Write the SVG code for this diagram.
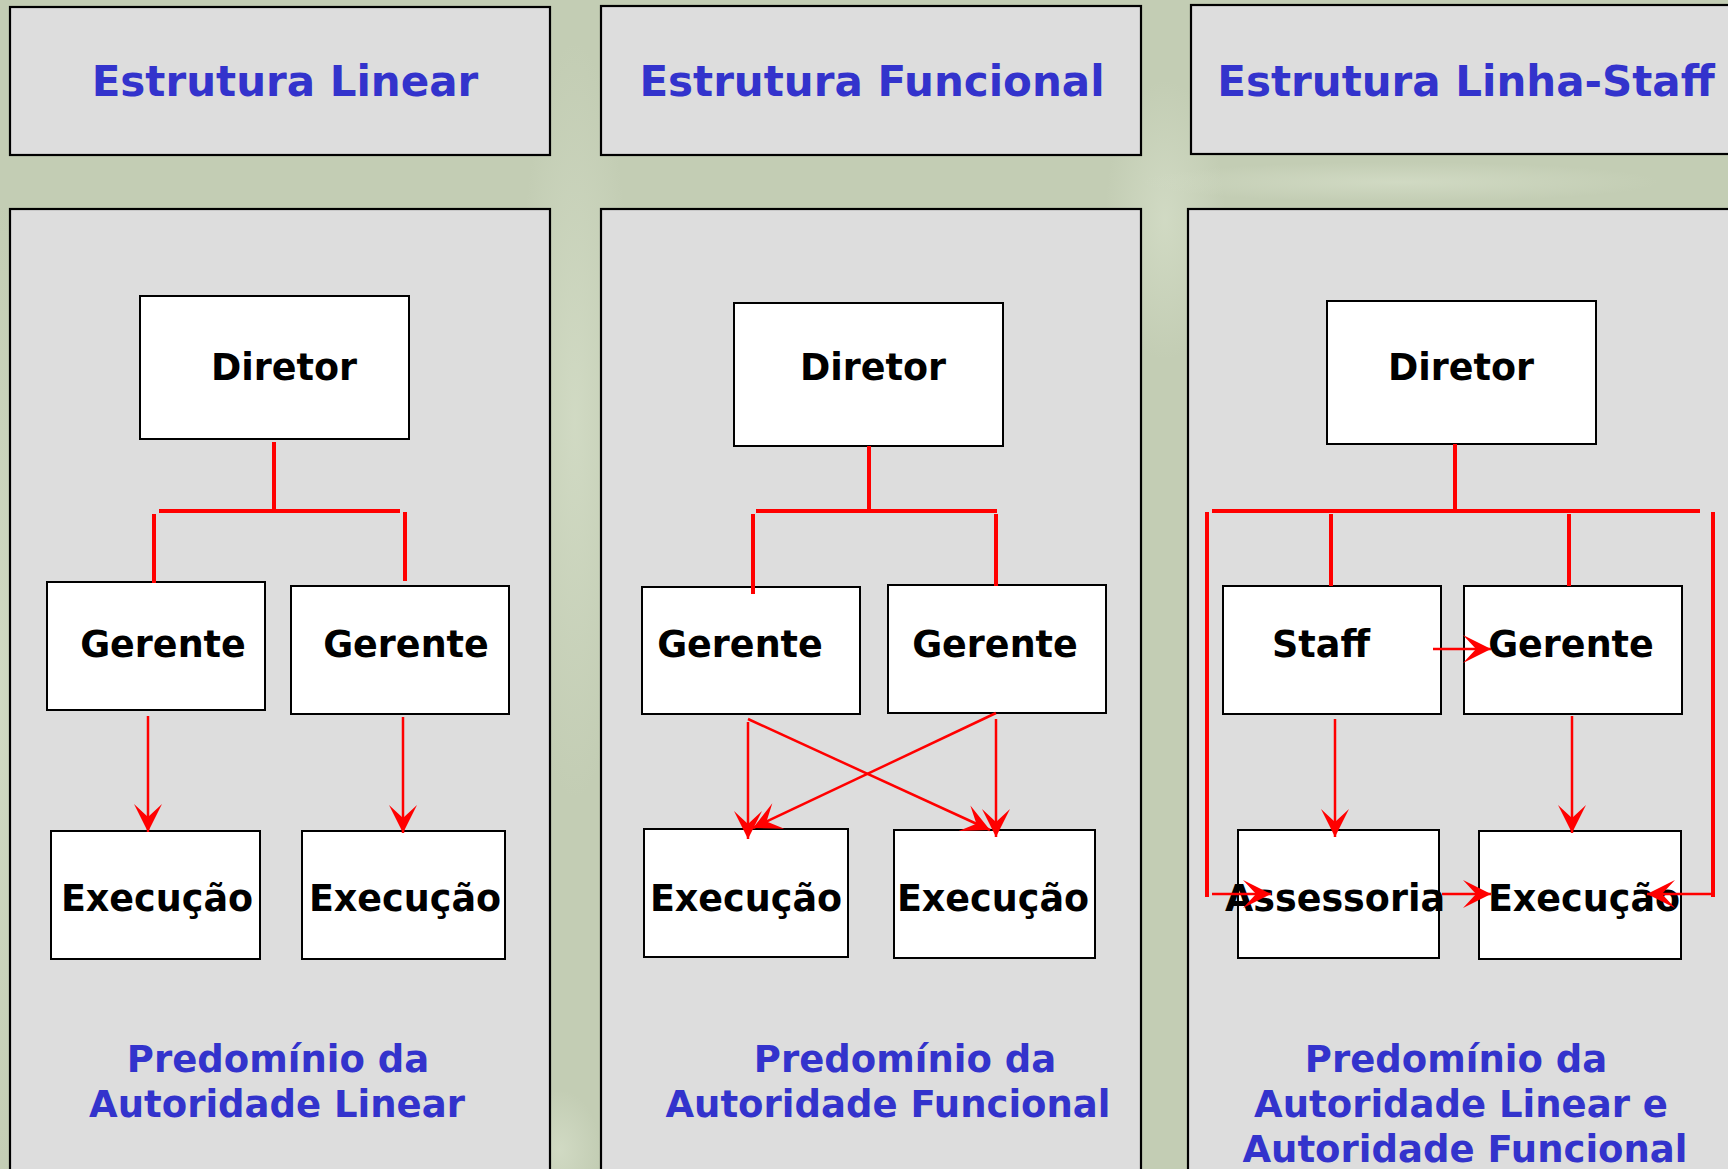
<svg xmlns="http://www.w3.org/2000/svg" width="1728" height="1169" viewBox="0 0 1728 1169">
<defs>
<style>
.panel{fill:#dddddd;stroke:#000;stroke-width:2.2}
.node rect{fill:#fff;stroke:#000;stroke-width:2}
.node text{font-family:"DejaVu Sans",Verdana,sans-serif;font-weight:bold;font-size:36.5px;fill:#000;text-anchor:middle}
.title{font-family:"DejaVu Sans",Verdana,sans-serif;font-weight:bold;font-size:42px;fill:#3333cc;text-anchor:middle}
.caption{font-family:"DejaVu Sans",Verdana,sans-serif;font-weight:bold;font-size:37px;fill:#3333cc;text-anchor:middle}
.thick{stroke:#ff0000;stroke-width:4;fill:none}
.thin{stroke:#ff0000;stroke-width:2.5;fill:none}
.arrow{marker-end:url(#ah)}
</style>
<marker id="ah" markerUnits="userSpaceOnUse" orient="auto" viewBox="-30 -16 32 32" refX="0" refY="0" markerWidth="32" markerHeight="32">
<path d="M0,0 L-28,-14 L-15,0 L-28,14 Z" fill="#ff0000"/>
</marker>
<radialGradient id="glow" cx="0.5" cy="0.5" r="0.5">
<stop offset="0" stop-color="#d4ddc7" stop-opacity="0.8"/>
<stop offset="1" stop-color="#d4ddc7" stop-opacity="0"/>
</radialGradient>
</defs>

<g id="background">
<rect x="0" y="0" width="1728" height="1169" fill="#c3cdb4"/>
<ellipse cx="575" cy="420" rx="60" ry="380" fill="url(#glow)"/>
<ellipse cx="0" cy="700" rx="40" ry="500" fill="url(#glow)"/>
<ellipse cx="1165" cy="220" rx="60" ry="140" fill="url(#glow)"/>
<ellipse cx="1400" cy="182" rx="260" ry="20" fill="url(#glow)"/>
<ellipse cx="560" cy="1150" rx="40" ry="60" fill="url(#glow)"/>
</g>

<g id="header-linear">
<rect class="panel" x="10" y="7" width="540" height="148"/>
<text class="title" x="285" y="96">Estrutura Linear</text>
</g>
<g id="header-funcional">
<rect class="panel" x="601" y="6" width="540" height="149"/>
<text class="title" x="872" y="96">Estrutura Funcional</text>
</g>
<g id="header-staff">
<rect class="panel" x="1191" y="5" width="560" height="149"/>
<text class="title" x="1466" y="96">Estrutura Linha-Staff</text>
</g>

<g id="panel-linear">
<rect class="panel" x="10" y="209" width="540" height="990"/>
<text class="caption" x="278" y="1072">Predomínio da</text>
<text class="caption" x="277" y="1117">Autoridade Linear</text>
</g>
<g id="panel-funcional">
<rect class="panel" x="601" y="209" width="540" height="990"/>
<text class="caption" x="905" y="1072">Predomínio da</text>
<text class="caption" x="888" y="1117">Autoridade Funcional</text>
</g>
<g id="panel-staff">
<rect class="panel" x="1188" y="209" width="560" height="990"/>
<text class="caption" x="1456" y="1072">Predomínio da</text>
<text class="caption" x="1461" y="1117">Autoridade Linear e</text>
<text class="caption" x="1465" y="1162">Autoridade Funcional</text>
</g>

<!-- Linear -->
<g id="l-diretor" class="node"><rect x="140" y="296" width="269" height="143"/><text x="284" y="380">Diretor</text></g>
<g id="l-gerente1" class="node"><rect x="47" y="582" width="218" height="128"/><text x="163" y="657">Gerente</text></g>
<g id="l-gerente2" class="node"><rect x="291" y="586" width="218" height="128"/><text x="406" y="657">Gerente</text></g>
<g id="l-execucao1" class="node"><rect x="51" y="831" width="209" height="128"/><text x="157" y="911">Execução</text></g>
<g id="l-execucao2" class="node"><rect x="302" y="831" width="203" height="128"/><text x="405" y="911">Execução</text></g>

<!-- Funcional -->
<g id="f-diretor" class="node"><rect x="734" y="303" width="269" height="143"/><text x="873" y="380">Diretor</text></g>
<g id="f-gerente1" class="node"><rect x="642" y="587" width="218" height="127"/><text x="740" y="657">Gerente</text></g>
<g id="f-gerente2" class="node"><rect x="888" y="585" width="218" height="128"/><text x="995" y="657">Gerente</text></g>
<g id="f-execucao1" class="node"><rect x="644" y="829" width="204" height="128"/><text x="746" y="911">Execução</text></g>
<g id="f-execucao2" class="node"><rect x="894" y="830" width="201" height="128"/><text x="993" y="911">Execução</text></g>

<!-- Linha-Staff -->
<g id="s-diretor" class="node"><rect x="1327" y="301" width="269" height="143"/><text x="1461" y="380">Diretor</text></g>
<g id="s-staff" class="node"><rect x="1223" y="586" width="218" height="128"/><text x="1321" y="657">Staff</text></g>
<g id="s-gerente" class="node"><rect x="1464" y="586" width="218" height="128"/><text x="1571" y="657">Gerente</text></g>
<g id="s-assessoria" class="node"><rect x="1238" y="830" width="201" height="128"/><text x="1335" y="911">Assessoria</text></g>
<g id="s-execucao" class="node"><rect x="1479" y="831" width="202" height="128"/><text x="1584" y="911">Execução</text></g>

<g id="connectors">
<!-- Linear -->
<path class="thick" d="M274,442 V511 M159,511 H400 M154,514 V583 M405,512 V581"/>
<path class="thin arrow" d="M148,716 V832"/>
<path class="thin arrow" d="M403,717 V833"/>
<!-- Funcional -->
<path class="thick" d="M869,446 V511 M756,511 H997 M753,514 V594 M996,514 V586"/>
<path class="thin arrow" d="M748,722 V839"/>
<path class="thin arrow" d="M748,719 L990,830"/>
<path class="thin arrow" d="M996,713 L753,828"/>
<path class="thin arrow" d="M996,719 V837"/>
<!-- Linha-Staff -->
<path class="thick" d="M1455,444 V511 M1212,511 H1700 M1207,512 V897 M1713,512 V897 M1331,514 V586 M1569,514 V586"/>
<path class="thin arrow" d="M1212,894 H1271"/>
<path class="thin arrow" d="M1713,894 H1647"/>
<path class="thin arrow" d="M1433,649 H1491"/>
<path class="thin arrow" d="M1335,719 V837"/>
<path class="thin arrow" d="M1572,716 V833"/>
<path class="thin arrow" d="M1442,894 H1491"/>
</g>
</svg>
